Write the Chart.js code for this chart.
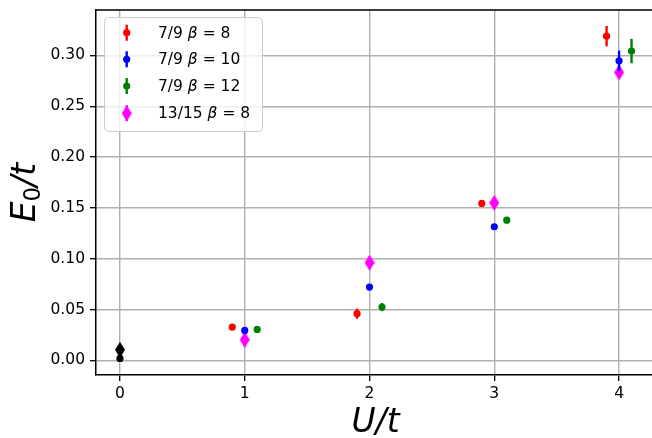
<!DOCTYPE html>
<html>
<head>
<meta charset="utf-8">
<script src="https://cdn.jsdelivr.net/npm/chart.js@4/dist/chart.umd.min.js"></script>
<style>
  html, body { margin: 0; padding: 0; background: #fff; overflow: hidden; }
  #wrap { width: 660px; height: 438px; }
</style>
</head>
<body>
<div id="wrap"><canvas id="chart" width="660" height="438"></canvas></div>
<script>
// data
const seriesLabels = ['7/9 β = 8', '7/9 β = 10', '7/9 β = 12', '13/15 β = 8'];
const seriesColors = ['#ff0000', '#0000ff', '#008000', '#ff00ff'];

const uBeta8 = [0.9, 1.9, 2.9, 3.9];
const eBeta8 = [0.0328, 0.046, 0.1545, 0.319];
const errBeta8 = [0.002, 0.005, 0.002, 0.010];

const uBeta10 = [1, 2, 3, 4];
const eBeta10 = [0.0295, 0.0722, 0.1315, 0.2948];
const errBeta10 = [0.002, 0.003, 0.002, 0.010];

const uBeta12 = [1.1, 2.1, 3.1, 4.1];
const eBeta12 = [0.0305, 0.0525, 0.138, 0.3043];
const errBeta12 = [0.002, 0.004, 0.002, 0.012];

const u1315 = [1, 2, 3, 4];
const e1315 = [0.0204, 0.0962, 0.155, 0.2833];
const err1315 = [0.0065, 0.006, 0.005, 0.005];

// U = 0 reference points (black, not in legend)
const uZero = [0];
const eZeroDiamond = [0.0105];
const errZeroDiamond = [0.003];
const eZeroCircle = [0.002];
const errZeroCircle = [0.002];

const xTicks = [0, 1, 2, 3, 4];
const yTicks = [0, 0.05, 0.10, 0.15, 0.20, 0.25, 0.30];

const FONT = "'DejaVu Sans', sans-serif";

function thinDiamond(color, w, h) {
    const c = document.createElement('canvas');
    c.width = w; c.height = h;
    const g = c.getContext('2d');
    g.fillStyle = color;
    g.beginPath();
    g.moveTo(w / 2, 0);
    g.lineTo(w, h / 2);
    g.lineTo(w / 2, h);
    g.lineTo(0, h / 2);
    g.closePath();
    g.fill();
    return c;
}

function pts(xs, ys) {
    return xs.map((x, i) => ({ x: x, y: ys[i] }));
}

function circleSet(label, color, xs, ys, errs) {
    return {
        label: label, data: pts(xs, ys), errors: errs, barColor: color,
        pointStyle: 'circle', pointRadius: 3.6, pointHoverRadius: 3.6,
        backgroundColor: color, borderColor: color, borderWidth: 0, showLine: false
    };
}

function diamondSet(label, color, xs, ys, errs) {
    return {
        label: label, data: pts(xs, ys), errors: errs, barColor: color,
        pointStyle: thinDiamond(color, 10, 16), pointRadius: 5,
        backgroundColor: color, borderColor: color, borderWidth: 0, showLine: false
    };
}

const datasets = [
    circleSet(seriesLabels[0], seriesColors[0], uBeta8, eBeta8, errBeta8),
    circleSet(seriesLabels[1], seriesColors[1], uBeta10, eBeta10, errBeta10),
    circleSet(seriesLabels[2], seriesColors[2], uBeta12, eBeta12, errBeta12),
    diamondSet(seriesLabels[3], seriesColors[3], u1315, e1315, err1315),
    circleSet('', '#000000', uZero, eZeroCircle, errZeroCircle),
    diamondSet('', '#000000', uZero, eZeroDiamond, errZeroDiamond)
];

// draws a string, with β in italic
function drawLabel(ctx, text, x, y, size) {
    const parts = text.split('β');
    let cx = x;
    parts.forEach((p, i) => {
        if (i > 0) {
            ctx.font = 'italic ' + size + 'px ' + FONT;
            ctx.fillText('β', cx, y);
            cx += ctx.measureText('β').width;
        }
        ctx.font = size + 'px ' + FONT;
        ctx.fillText(p, cx, y);
        cx += ctx.measureText(p).width;
    });
}

const errorBars = {
    id: 'errorBars',
    beforeDatasetDraw(chart, args) {
        const ds = chart.data.datasets[args.index];
        if (!ds.errors) return;
        const ctx = chart.ctx;
        const xs = chart.scales.x, ys = chart.scales.y;
        ctx.save();
        ctx.strokeStyle = ds.barColor;
        ctx.lineWidth = 2.4;
        ds.data.forEach((p, i) => {
            const px = xs.getPixelForValue(p.x);
            ctx.beginPath();
            ctx.moveTo(px, ys.getPixelForValue(p.y - ds.errors[i]));
            ctx.lineTo(px, ys.getPixelForValue(p.y + ds.errors[i]));
            ctx.stroke();
        });
        ctx.restore();
    }
};

const decorations = {
    id: 'decorations',
    afterDraw(chart) {
        const ctx = chart.ctx;
        const a = chart.chartArea;
        ctx.save();
        // top and right spines
        ctx.strokeStyle = '#000';
        ctx.lineWidth = 1.5;
        ctx.beginPath();
        ctx.moveTo(a.left, a.top);
        ctx.lineTo(a.right, a.top);
        ctx.lineTo(a.right, a.bottom);
        ctx.stroke();

        // legend
        const lx = 104, ly = 17, lw = 158, lh = 114, r = 4;
        ctx.fillStyle = 'rgba(255,255,255,0.8)';
        ctx.strokeStyle = '#cccccc';
        ctx.lineWidth = 1;
        ctx.beginPath();
        ctx.roundRect(lx + 0.5, ly + 0.5, lw, lh, r);
        ctx.fill();
        ctx.stroke();
        const rows = [32.7, 59.3, 86, 113.3];
        ctx.textBaseline = 'middle';
        ctx.textAlign = 'left';
        for (let i = 0; i < 4; i++) {
            const ds = chart.data.datasets[i];
            const mx = 126.7, my = rows[i];
            ctx.strokeStyle = ds.barColor;
            ctx.lineWidth = 2.4;
            ctx.beginPath();
            ctx.moveTo(mx, my - 8);
            ctx.lineTo(mx, my + 8);
            ctx.stroke();
            ctx.fillStyle = ds.barColor;
            if (ds.pointStyle === 'circle') {
                ctx.beginPath();
                ctx.arc(mx, my, 3.6, 0, Math.PI * 2);
                ctx.fill();
            } else {
                ctx.drawImage(ds.pointStyle, mx - 5, my - 8, 10, 16);
            }
            ctx.fillStyle = '#000';
            drawLabel(ctx, ds.label, 158, my + 1, 15.5);
        }

        // axis titles
        ctx.fillStyle = '#000';
        ctx.textBaseline = 'alphabetic';
        const cx = (a.left + a.right) / 2;
        ctx.font = 'italic 33px ' + FONT;
        ctx.textAlign = 'center';
        ctx.fillText('U/t', cx, 432);

        ctx.translate(35, (a.top + a.bottom) / 2);
        ctx.rotate(-Math.PI / 2);
        ctx.textAlign = 'left';
        ctx.font = 'italic 33px ' + FONT;
        const wE = ctx.measureText('E').width;
        const wT = ctx.measureText('/t').width;
        ctx.font = '23px ' + FONT;
        const w0 = ctx.measureText('0').width;
        let sx = -(wE + w0 + wT) / 2;
        ctx.font = 'italic 33px ' + FONT;
        ctx.fillText('E', sx, 0);
        sx += wE;
        ctx.font = '23px ' + FONT;
        ctx.fillText('0', sx, 5);
        sx += w0;
        ctx.font = 'italic 33px ' + FONT;
        ctx.fillText('/t', sx, 0);
        ctx.restore();
    }
};

const gridColor = '#b0b0b0';

new Chart(document.getElementById('chart').getContext('2d'), {
    type: 'scatter',
    data: { datasets: datasets },
    options: {
        responsive: false,
        animation: false,
        devicePixelRatio: 1,
        layout: { padding: { top: 10, right: 4, left: 0, bottom: 0 } },
        plugins: { legend: { display: false }, tooltip: { enabled: false } },
        scales: {
            x: {
                type: 'linear',
                min: -0.192,
                max: 4.288,
                afterBuildTicks: s => { s.ticks = xTicks.map(v => ({ value: v })); },
                afterFit: s => { s.height = 63; s.paddingLeft = 0; s.paddingRight = 0; },
                grid: { color: gridColor, lineWidth: 1.4, tickLength: 6, tickColor: '#000', tickWidth: 1.3 },
                border: { display: true, color: '#000', width: 1.5 },
                ticks: { color: '#000', font: { family: FONT, size: 15.5 }, padding: 4, maxRotation: 0,
                         callback: v => String(v) }
            },
            y: {
                type: 'linear',
                min: -0.0143,
                max: 0.3447,
                afterBuildTicks: s => { s.ticks = yTicks.map(v => ({ value: v })); },
                afterFit: s => { s.width = 96; s.paddingTop = 0; s.paddingBottom = 0; },
                grid: { color: gridColor, lineWidth: 1.4, tickLength: 6, tickColor: '#000', tickWidth: 1.3 },
                border: { display: true, color: '#000', width: 1.5 },
                ticks: { color: '#000', font: { family: FONT, size: 15.5 }, padding: 5,
                         callback: v => v.toFixed(2) }
            }
        }
    },
    plugins: [errorBars, decorations]
});
</script>
</body>
</html>
